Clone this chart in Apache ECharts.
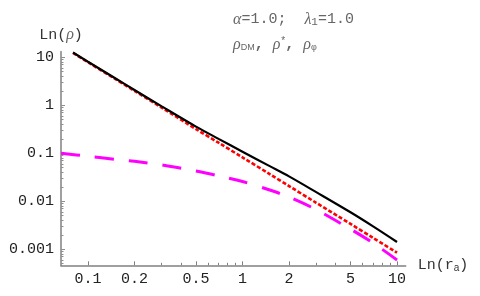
<!DOCTYPE html>
<html><head><meta charset="utf-8">
<script src="https://cdn.jsdelivr.net/npm/echarts@6/dist/echarts.min.js"></script>
<style>html,body{margin:0;padding:0;background:#fff}#c{width:480px;height:296px}</style>
</head><body><div id="c"></div>
<script>
// data
const rX = [0.08, 0.1, 0.15, 0.2, 0.3, 0.5, 0.7, 1, 1.5, 2, 3, 5, 7, 10];
const rhoDM = [12.6, 8.1, 3.65, 2.08, 0.95, 0.36, 0.2, 0.108, 0.054, 0.033, 0.0155, 0.0059, 0.003, 0.00142];
const rhoStar = [12.3, 7.89, 3.53, 2.0, 0.895, 0.319, 0.166, 0.0822, 0.0369, 0.0208, 0.0093, 0.00338, 0.00173, 0.00085];
const phiX = [0.067, 0.1, 0.15, 0.2, 0.3, 0.5, 0.7, 1, 1.5, 2, 3, 5, 7, 10];
const rhoPhi = [0.1, 0.087, 0.075, 0.068, 0.0575, 0.0428, 0.034, 0.0258, 0.0172, 0.0123, 0.0067, 0.00263, 0.00135, 0.0006];
const xTickValues = [0.1, 0.2, 0.5, 1, 2, 5, 10];
const xTickLabels = ['0.1', '0.2', '0.5', '1', '2', '5', '10'];
const xMinorTicks = [0.3, 0.4, 0.6, 0.7, 0.8, 0.9, 3, 4, 6, 7, 8, 9];
const yTickValues = [0.001, 0.01, 0.1, 1, 10];
const yTickLabels = ['0.001', '0.01', '0.1', '1', '10'];
const yMinorTicks = [0.0005, 0.0006, 0.0007, 0.0008, 0.0009,
  0.002, 0.003, 0.004, 0.005, 0.006, 0.007, 0.008, 0.009,
  0.02, 0.03, 0.04, 0.05, 0.06, 0.07, 0.08, 0.09,
  0.2, 0.3, 0.4, 0.5, 0.6, 0.7, 0.8, 0.9,
  2, 3, 4, 5, 6, 7, 8, 9];

const pair = (xs, ys) => xs.map((x, i) => [x, ys[i]]);
const lookup = (vals, labels) => (v) => {
  for (let i = 0; i < vals.length; i++) {
    if (Math.abs(Math.log10(v) - Math.log10(vals[i])) < 1e-6) return labels[i];
  }
  return '';
};

const MONO = '"Liberation Mono", "DejaVu Sans Mono", monospace';
const SERIF = '"Liberation Serif", serif';
const SANS = '"Liberation Sans", sans-serif';
const XMIN = 0.0669, XMAX = 11.38, YMIN = 0.000464, YMAX = 13.08;

const chart = echarts.init(document.getElementById('c'), null, {renderer: 'canvas'});
chart.setOption({
  animation: false,
  backgroundColor: '#fff',
  title: [{
    left: 228, top: 6,
    text: '{g|α}{m|=1.0;  }{g|λ}{s|1}{m|=1.0}',
    textStyle: {
      fontWeight: 'normal',
      rich: {
        g: {fontFamily: SERIF, fontStyle: 'italic', fontWeight: 'normal', fontSize: 16, color: '#666'},
        m: {fontFamily: MONO, fontWeight: 'normal', fontSize: 15, color: '#666'},
        s: {fontFamily: MONO, fontWeight: 'normal', fontSize: 11, color: '#666', padding: [6, 0, 0, 0]}
      }
    }
  }, {
    left: 228, top: 31,
    text: '{g|ρ}{s|DM}{m|, }{g|ρ}{u|*}{m|, }{g|ρ}{s|φ}',
    textStyle: {
      fontWeight: 'normal',
      rich: {
        g: {fontFamily: SERIF, fontStyle: 'italic', fontWeight: 'normal', fontSize: 16, color: '#666'},
        m: {fontFamily: MONO, fontSize: 15, color: '#666', fontWeight: 'bold'},
        s: {fontFamily: SANS, fontWeight: 'normal', fontSize: 9, color: '#666', padding: [7, 0, 0, 0]},
        u: {fontFamily: SANS, fontWeight: 'normal', fontSize: 10, color: '#666', padding: [0, 0, 7, 1]}
      }
    }
  }],
  grid: {left: 61, right: 74.3, top: 51.7, bottom: 30.7, containLabel: false},
  xAxis: [{
    type: 'log', min: XMIN, max: XMAX, position: 'bottom',
    name: '{m|Ln(r}{s|a}{m|)}',
    nameLocation: 'end', nameGap: 12,
    nameTextStyle: {
      verticalAlign: 'middle',
      rich: {
        m: {fontFamily: MONO, fontSize: 15, color: '#333'},
        s: {fontFamily: SANS, fontSize: 10, color: '#333', padding: [5, 0, 0, 0]}
      }
    },
    axisLine: {show: true, lineStyle: {color: '#808080', width: 1.5}},
    axisTick: {show: true, inside: true, length: 4, customValues: xTickValues, lineStyle: {color: '#808080', width: 1}},
    axisLabel: {show: true, customValues: xTickValues, formatter: lookup(xTickValues, xTickLabels),
      fontFamily: MONO, fontSize: 15, color: '#222', margin: 6},
    splitLine: {show: false}
  }, {
    type: 'log', min: XMIN, max: XMAX, position: 'bottom',
    axisLine: {show: false},
    axisTick: {show: true, inside: true, length: 2.5, customValues: xMinorTicks, lineStyle: {color: '#808080', width: 1}},
    axisLabel: {show: false},
    splitLine: {show: false}
  }],
  yAxis: [{
    type: 'log', min: YMIN, max: YMAX, position: 'left',
    name: '{m|Ln(}{g|ρ}{m|)}',
    nameLocation: 'end', nameGap: 9,
    nameTextStyle: {
      rich: {
        m: {fontFamily: MONO, fontSize: 15, color: '#333'},
        g: {fontFamily: SERIF, fontStyle: 'italic', fontSize: 16, color: '#666'}
      }
    },
    axisLine: {show: true, lineStyle: {color: '#a0a0a0', width: 2}},
    axisTick: {show: true, inside: true, length: 4, customValues: yTickValues, lineStyle: {color: '#909090', width: 1}},
    axisLabel: {show: true, customValues: yTickValues, formatter: lookup(yTickValues, yTickLabels),
      fontFamily: MONO, fontSize: 15, color: '#222', margin: 7},
    splitLine: {show: false}
  }, {
    type: 'log', min: YMIN, max: YMAX, position: 'left',
    axisLine: {show: false},
    axisTick: {show: true, inside: true, length: 2.5, customValues: yMinorTicks, lineStyle: {color: '#909090', width: 1}},
    axisLabel: {show: false},
    splitLine: {show: false}
  }],
  series: [{
    name: 'rho_phi', type: 'line', xAxisIndex: 0, yAxisIndex: 0,
    data: pair(phiX, rhoPhi), showSymbol: false, symbol: 'none', smooth: 0.3, clip: true,
    lineStyle: {color: '#ff00ff', width: 3, type: [19, 15]}
  }, {
    name: 'rho_star', type: 'line', xAxisIndex: 0, yAxisIndex: 0,
    data: pair(rX, rhoStar), showSymbol: false, symbol: 'none', smooth: 0.3, clip: true,
    lineStyle: {color: '#ff0000', width: 2.6, type: [4, 2]}
  }, {
    name: 'rho_DM', type: 'line', xAxisIndex: 0, yAxisIndex: 0,
    data: pair(rX, rhoDM), showSymbol: false, symbol: 'none', smooth: 0.3, clip: true,
    lineStyle: {color: '#000000', width: 2.2}
  }]
});
</script>
</body></html>
